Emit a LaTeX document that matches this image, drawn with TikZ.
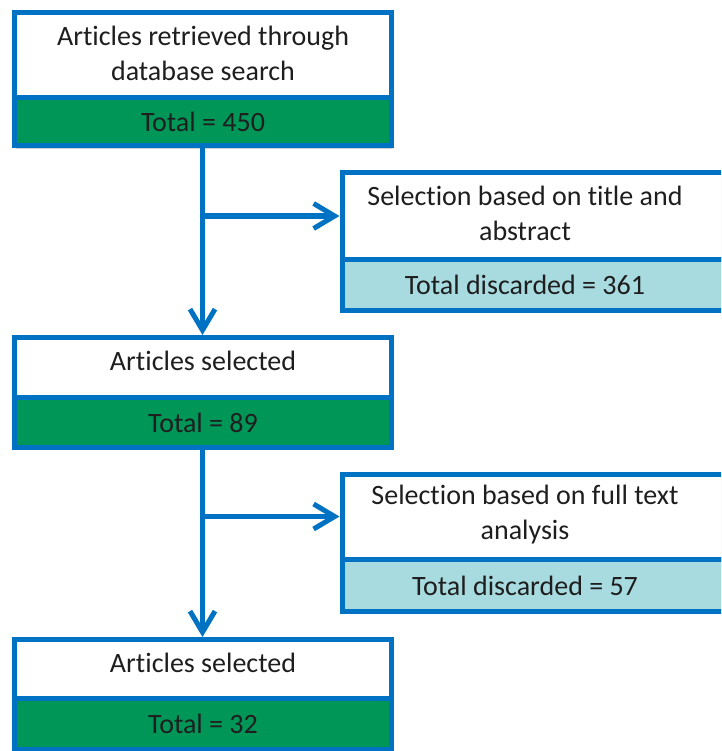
\documentclass[tikz,border=0pt]{standalone}
\usepackage{fontspec}
\setmainfont{Carlito}[Ligatures={NoCommon,NoContextual}]
\usetikzlibrary{arrows.meta,shadows}
\definecolor{bblue}{RGB}{0,114,196}
\definecolor{bgreen}{RGB}{0,150,88}
\definecolor{bteal}{RGB}{168,219,224}
\definecolor{tcol}{RGB}{30,30,30}
\begin{document}
\begin{tikzpicture}[x=1pt,y=-1pt,
  boxpart/.style={draw=bblue, line width=5pt, rectangle, inner sep=0pt, outer sep=0pt,
    drop shadow={shadow xshift=2pt, shadow yshift=-3pt, opacity=0.18, fill=black}},
  lbl/.style={font=\fontsize{28}{35}\selectfont, text=tcol, align=center, inner sep=0pt},
  flow/.style={draw=bblue, line width=5pt, shorten >=2.5pt,
    -{Straight Barb[length=21pt 0, width=25pt 0]}}
]
\useasboundingbox (0,0) rectangle (721,751);
\clip (0,0) rectangle (721,751);
\fill[white] (0,0) rectangle (721,751);

% left column boxes
\node[boxpart, fill=white, minimum width=377pt, minimum height=85pt] (b1t) at (202.5,55) {};
\node[boxpart, fill=bgreen, minimum width=377pt, minimum height=48.5pt] (b1b) at (202.5,121.75) {};
\node[boxpart, fill=white, minimum width=377pt, minimum height=60pt] (b3t) at (202.5,367.5) {};
\node[boxpart, fill=bgreen, minimum width=377pt, minimum height=49.5pt] (b3b) at (202.5,422.25) {};
\node[boxpart, fill=white, minimum width=377pt, minimum height=59pt] (b5t) at (202.5,669) {};
\node[boxpart, fill=bgreen, minimum width=377pt, minimum height=50.5pt] (b5b) at (202.5,723.75) {};

% right column boxes (cut by the right edge)
\node[boxpart, fill=white, minimum width=418pt, minimum height=86pt] (b2t) at (551,216) {};
\node[boxpart, fill=bteal, minimum width=418pt, minimum height=51pt] (b2b) at (551,284.5) {};
\node[boxpart, fill=white, minimum width=418pt, minimum height=85pt] (b4t) at (551,516.5) {};
\node[boxpart, fill=bteal, minimum width=418pt, minimum height=52pt] (b4b) at (551,585) {};

% texts
\node[lbl] (t1) at (203,53) {Articles retrieved through\\database search};
\node[lbl] (t1n) at (203,122) {Total = 450};
\node[lbl] (t2) at (525,213) {Selection based on title and\\abstract};
\node[lbl] (t2n) at (525,285) {Total discarded = 361};
\node[lbl] (t3) at (203,361) {Articles selected};
\node[lbl] (t3n) at (203,423) {Total = 89};
\node[lbl] (t4) at (525,514.5) {Selection based on full text\\analysis};
\node[lbl] (t4n) at (525,585.5) {Total discarded = 57};
\node[lbl] (t5) at (203,663) {Articles selected};
\node[lbl] (t5n) at (203,724) {Total = 32};

% connectors
\coordinate (j1) at (202.5,216);
\coordinate (j2) at (202.5,516.5);
\draw[flow] (b1b.south) -- (b3t.north);
\draw[flow] (j1) -- (b2t.west);
\draw[flow] (b3b.south) -- (b5t.north);
\draw[flow] (j2) -- (b4t.west);
\end{tikzpicture}
\end{document}
